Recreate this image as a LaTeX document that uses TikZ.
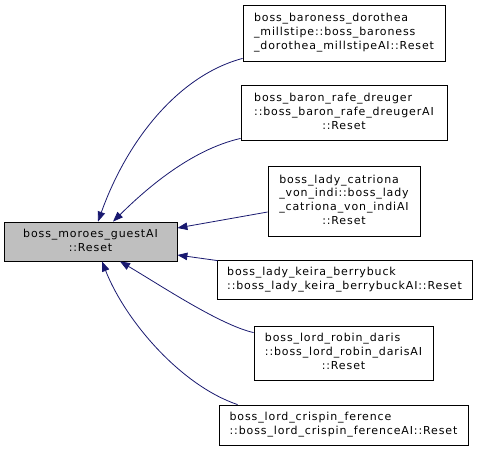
\documentclass[tikz,border=0pt]{standalone}
\usepackage{fontspec}
\usetikzlibrary{arrows.meta}
\newfontfamily\dvs[LetterSpace=8]{DejaVu Sans}
\definecolor{edgeblue}{HTML}{191970}
\definecolor{mainfill}{HTML}{BFBFBF}
\newcommand{\lastc}[1]{\multicolumn{1}{@{}c@{}}{#1}}
\tikzset{
  box/.style={draw=black, line width=0.8pt, inner sep=0pt, align=center,
    font=\dvs\fontsize{11}{13.8}\selectfont},
  mainbox/.style={box, fill=mainfill},
  edge/.style={draw=edgeblue, line width=0.8pt,
    {Triangle[length=10pt,width=7.5pt]}-, },
}
\begin{document}
\begin{tikzpicture}[x=1pt,y=-1pt]
\useasboundingbox (0,0) rectangle (477,451);
\fill[white] (0,0) rectangle (477,451);
\node[mainbox, minimum width=173pt, minimum height=39pt] (main) at (90.5,241.5)
  {\begin{tabular}{@{}c@{}}boss\_moroes\_guestAI\\::Reset\end{tabular}};
\node[box, minimum width=202pt, minimum height=56pt] (b1) at (344,33)
  {\begin{tabular}{@{}l@{}}boss\_baroness\_dorothea\\\_millstipe::boss\_baroness\\\lastc{\_dorothea\_millstipeAI::Reset}\end{tabular}};
\node[box, minimum width=206pt, minimum height=55pt] (b2) at (344,112.5)
  {\begin{tabular}{@{}l@{}}boss\_baron\_rafe\_dreuger\\::boss\_baron\_rafe\_dreugerAI\\\lastc{::Reset}\end{tabular}};
\node[box, minimum width=152pt, minimum height=70pt] (b3) at (344,201)
  {\begin{tabular}{@{}l@{}}boss\_lady\_catriona\\\_von\_indi::boss\_lady\\\_catriona\_von\_indiAI\\\lastc{::Reset}\end{tabular}};
\node[box, minimum width=255pt, minimum height=39pt] (b4) at (344.5,279.5)
  {\begin{tabular}{@{}l@{}}boss\_lady\_keira\_berrybuck\\\lastc{::boss\_lady\_keira\_berrybuckAI::Reset}\end{tabular}};
\node[box, minimum width=179pt, minimum height=54pt] (b5) at (343.5,353)
  {\begin{tabular}{@{}l@{}}boss\_lord\_robin\_daris\\::boss\_lord\_robin\_darisAI\\\lastc{::Reset}\end{tabular}};
\node[box, minimum width=249pt, minimum height=40pt] (b6) at (343.5,425)
  {\begin{tabular}{@{}l@{}}boss\_lord\_crispin\_ference\\\lastc{::boss\_lord\_crispin\_ferenceAI::Reset}\end{tabular}};
\draw[edge] ([xshift=7.5pt]main.north) .. controls (128,138) and (180,75) .. ([yshift=3pt]b1.south west);
\draw[edge] ([xshift=22.5pt]main.north) .. controls (145,190) and (190,150) .. ([yshift=2pt]b2.south west);
\draw[edge] ([yshift=13.5pt]main.east) -- ([yshift=-11pt]b3.west);
\draw[edge] ([yshift=-13.5pt]main.east) -- ([xshift=1pt,yshift=-1pt]b4.north west);
\draw[edge] ([xshift=29.5pt]main.south) .. controls (160,285) and (220,325) .. ([yshift=-7pt]b5.north west);
\draw[edge] ([xshift=11.5pt]main.south) .. controls (125,320) and (180,385) .. ([xshift=19pt]b6.north west);
\end{tikzpicture}
\end{document}
